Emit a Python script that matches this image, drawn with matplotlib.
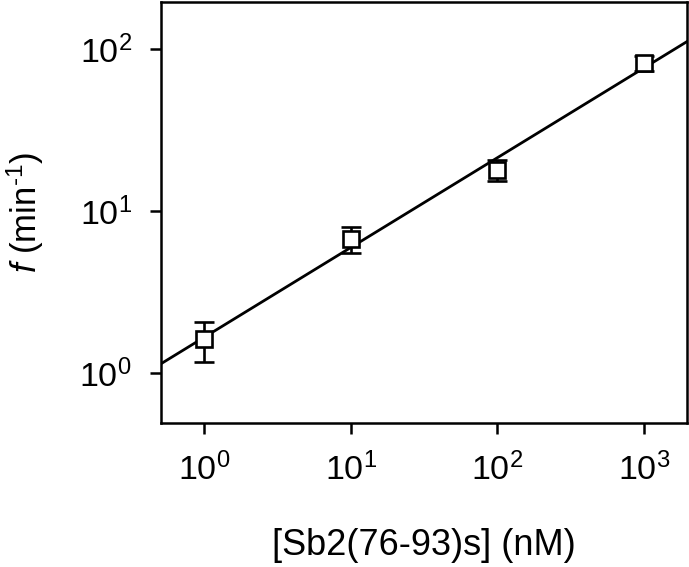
import numpy as np
import matplotlib
matplotlib.use("Agg")
import matplotlib.pyplot as plt

plt.rcParams['font.family'] = ['Liberation Sans', 'DejaVu Sans']
plt.rcParams['mathtext.fontset'] = 'custom'
plt.rcParams['mathtext.rm'] = 'Liberation Sans'
plt.rcParams['mathtext.it'] = 'Liberation Sans:italic'
plt.rcParams['mathtext.default'] = 'regular'

# Data
conc_nM = [1, 10, 100, 1000]
f_values = [1.62, 6.72, 18.0, 82.0]
err_upper = [2.05, 7.92, 20.7, 91.3]
err_lower = [1.17, 5.50, 15.3, 73.8]

# Power-law fit parameters: f = amp * c**expo
fit_amp = 1.66
fit_expo = 0.555

xlim = (0.507, 1963)
ylim = (0.49, 196)
xtick_vals = [1, 10, 100, 1000]
ytick_vals = [1, 10, 100]
xtick_labels = [r'10$^{0}$', r'10$^{1}$', r'10$^{2}$', r'10$^{3}$']
ytick_labels = [r'10$^{0}$', r'10$^{1}$', r'10$^{2}$']

fig = plt.figure(figsize=(6.89, 5.67), dpi=100)
ax = fig.add_axes([161/689, 1 - 423/567, (687-161)/689, (423-2)/567])
ax.set_xscale('log')
ax.set_yscale('log')

xf = np.logspace(np.log10(xlim[0]) - 0.1, np.log10(xlim[1]) + 0.1, 200)
ax.plot(xf, fit_amp * xf ** fit_expo, color='black', lw=2.0, zorder=1)

f = np.array(f_values)
yerr = np.vstack([f - np.array(err_lower), np.array(err_upper) - f])
ax.errorbar(conc_nM, f, yerr=yerr, fmt='s', ms=11.5, mfc='white', mec='black',
            mew=1.9, ecolor='black', elinewidth=1.9, capsize=7, capthick=1.9, zorder=3)

ax.set_xlim(*xlim)
ax.set_ylim(*ylim)
ax.set_xticks(xtick_vals)
ax.set_xticklabels(xtick_labels)
ax.set_yticks(ytick_vals)
ax.set_yticklabels(ytick_labels)
ax.minorticks_off()
ax.tick_params(axis='both', which='major', direction='out', length=8, width=1.8,
               labelsize=24.5, color='black')
ax.tick_params(axis='x', pad=13)
ax.tick_params(axis='y', pad=13)
for s in ax.spines.values():
    s.set_linewidth(1.8)

ax.set_xlabel('[Sb2(76-93)s] (nM)', fontsize=26, labelpad=30)
ax.set_ylabel(r'$\it{f}$ (min$^{\text{-}1}$)', fontsize=25, labelpad=24)

fig.savefig('out.png', dpi=100)
